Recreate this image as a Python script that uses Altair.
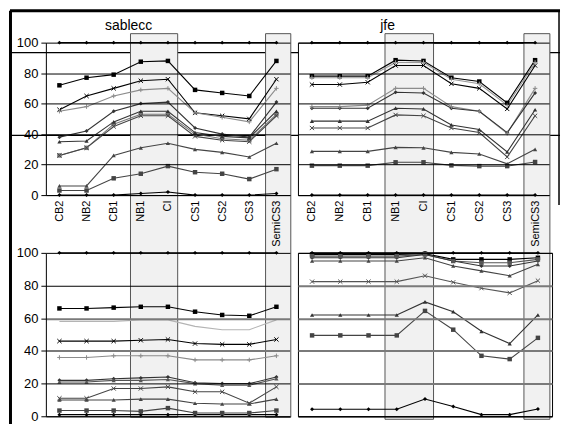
import json
import altair as alt
import pandas as pd

categories = ["CB2", "NB2", "CB1", "NB1", "CI", "CS1", "CS2", "CS3", "SemiCS3"]

# ---- sablecc (top left)
sab_1 = [100, 100, 100, 100, 100, 100, 100, 100, 100]
sab_2 = [72, 77, 79, 87.5, 88, 69, 67, 65, 88]
sab_3 = [56, 65, 70, 75, 76, 54, 52, 50, 76]
sab_4 = [55, 58, 65, 69, 70, 54, 51, 48, 70]
sab_5 = [38, 42, 55, 60, 61, 44, 40, 38, 61]
sab_6 = [35, 35.5, 48, 55, 55, 41, 38.5, 37.5, 55]
sab_7 = [26, 31, 46.5, 53, 53, 40, 37, 36, 53]
sab_8 = [26, 31, 45, 52, 52, 38.5, 36, 35, 52]
sab_9 = [6, 6, 26, 31, 34, 30, 28, 25, 34]
sab_10 = [3, 3, 11, 14, 19, 15, 14, 10.5, 17]
sab_11 = [0, 0, 0, 1, 2, 0, 0, 0, 1]

# ---- jfe (top right)
jfe_1 = [100, 100, 100, 100, 100, 100, 100, 100, 100]
jfe_2 = [78, 78, 78, 88.5, 88, 77, 74.5, 60.5, 88.5]
jfe_3 = [77, 77, 77, 87, 87, 76, 73, 59, 87]
jfe_4 = [72.5, 72.5, 74, 85, 85, 73, 70, 56.5, 85]
jfe_5 = [58, 58, 59, 70, 70, 58, 55, 40.5, 70]
jfe_6 = [57, 57, 57, 67.5, 67, 57, 55, 41, 67]
jfe_7 = [48.5, 48.5, 48.5, 57, 56.5, 46, 43, 28.3, 56]
jfe_8 = [44, 44, 44, 52.6, 52, 44, 41, 25, 52]
jfe_9 = [28.7, 28.7, 28.7, 31.3, 31, 28, 27, 20.5, 30]
jfe_10 = [19.3, 19.3, 19.3, 21.5, 21.5, 19.5, 19, 19, 21.7]
jfe_11 = [0, 0, 0, 0, 0, 0, 0, 0, 0]

# ---- bottom left
bl_1 = [100, 100, 100, 100, 100, 100, 100, 100, 100]
bl_2 = [66, 66, 66.5, 67, 67, 64, 62, 61.5, 67]
bl_3 = [58, 58, 58, 59, 59, 55, 53, 53, 59]
bl_4 = [46, 46, 46, 46.5, 47, 44.5, 44, 44, 47]
bl_5 = [36, 36, 37, 37, 37, 34.5, 34.5, 34.5, 37]
bl_6 = [22, 22, 23, 23.5, 24, 20.5, 20, 20, 24]
bl_7 = [21, 21, 22, 22, 22.5, 20, 19, 19, 23]
bl_8 = [11, 11, 17, 17, 18, 15, 15, 8, 18]
bl_9 = [10, 10, 10, 10.5, 10.5, 8, 7.5, 7.5, 10.5]
bl_10 = [3.5, 3.5, 3.5, 3, 5, 2, 2, 2, 3.5]
bl_11 = [1, 1, 1, 1, 1, 1, 1, 1, 1]

# ---- bottom right
br_1 = [100, 100, 100, 100, 100, 100, 100, 100, 100]
br_2 = [99, 99, 99, 99, 99.5, 96, 96, 96, 97]
br_3 = [98, 98, 98, 98, 99, 95, 94, 94, 96]
br_4 = [97, 97, 97, 97, 99, 95, 92, 92, 95]
br_5 = [95, 95, 95, 95, 97, 92, 89, 86, 93]
br_6 = [82.4, 82.4, 82.4, 82.4, 86, 82, 78.4, 75.5, 83]
br_7 = [62, 62, 62, 62, 70, 64, 52, 44.5, 62]
br_8 = [49.5, 49.5, 49.5, 49.5, 64.5, 53, 37, 35, 48]
br_9 = [4.3, 4.3, 4.3, 4.3, 10.6, 6, 1, 1, 4.5]

highlight_groups = [("NB1", "CI"), ("SemiCS3", "SemiCS3")]

# styles (colour, marker) per series
sab_styles = [("#000000", "diamond"), ("#000000", "square"), ("#000000", "x"), ("#8c8c8c", "plus"),
              ("#333333", "diamond"), ("#333333", "triangle-up"), ("#777777", "square"), ("#444444", "x"),
              ("#444444", "triangle-up"), ("#444444", "square"), ("#000000", "diamond")]
jfe_styles = [("#000000", "diamond"), ("#000000", "square"), ("#9a9a9a", "plus"), ("#000000", "x"),
              ("#8c8c8c", "plus"), ("#333333", "diamond"), ("#333333", "triangle-up"), ("#444444", "x"),
              ("#444444", "triangle-up"), ("#444444", "square"), ("#000000", "diamond")]
bl_styles = [("#000000", "diamond"), ("#000000", "square"), ("#b4b4b4", "none"), ("#000000", "x"),
             ("#8c8c8c", "plus"), ("#333333", "diamond"), ("#555555", "triangle-up"), ("#444444", "x"),
             ("#444444", "triangle-up"), ("#444444", "square"), ("#000000", "diamond")]
br_styles = [("#000000", "diamond"), ("#000000", "square"), ("#555555", "square"), ("#333333", "diamond"),
             ("#444444", "triangle-up"), ("#555555", "x"), ("#333333", "triangle-up"), ("#444444", "square"),
             ("#000000", "diamond")]

FONT = "Liberation Sans"
X_PATH = "M-1,-1L1,1M-1,1L1,-1"
PLUS_PATH = "M-1,0L1,0M0,-1L0,1"
label_expr = json.dumps(categories) + "[datum.value]"
n = len(categories)


def panel(name, series, styles, width, height, ylabels, xlabels, gridcond, boxed, title=None,
          title_x=0, shade_bottom=None, frame=False, right_frame=False, fill=None):
    rows = []
    ids = []
    cols = []
    for k, (vals, st) in enumerate(zip(series, styles)):
        sid = f"{name}{k:02d}"
        ids.append(sid)
        cols.append(st[0])
        for i, v in enumerate(vals):
            rows.append({"idx": i, "val": v, "sid": sid, "marker": st[1]})
    df = pd.DataFrame(rows)

    xscale = alt.Scale(domain=[-0.5, n - 0.5], nice=False, zero=False)
    yscale = alt.Scale(domain=[0, 100], nice=False)
    if xlabels:
        xaxis = alt.Axis(values=list(range(n)), labelExpr=label_expr, labelAngle=-90, labelAlign="right",
                         labelBaseline="middle", labelFontSize=11, labelFont=FONT, labelColor="black",
                         ticks=False, grid=False, domainColor="black", title=None, labelPadding=5, zindex=1)
    else:
        xaxis = alt.Axis(labels=False, ticks=False, grid=False, domainColor="black", title=None, zindex=1)
    gcol = {"condition": {"test": gridcond, "value": "#7a7a7a"}, "value": "black"}
    gwid = {"condition": {"test": gridcond, "value": 2}, "value": 1}
    if ylabels:
        yaxis = alt.Axis(values=[0, 20, 40, 60, 80, 100], labelFontSize=13, labelFont=FONT, labelColor="black",
                         tickColor="black", tickSize=5, domainColor="black", gridColor=gcol, gridWidth=gwid,
                         title=None, labelPadding=3, zindex=1)
    else:
        yaxis = alt.Axis(values=[0, 20, 40, 60, 80, 100], labels=False, ticks=False, domain=False,
                         gridColor=gcol, gridWidth=gwid, title=None, zindex=1)

    layers = []
    one = pd.DataFrame({"a": [0]})
    if frame:
        # overlay frame lines
        for yy in [10, 93]:
            layers.append(alt.Chart(one).mark_rule(color="black", strokeWidth=1.2).encode(
                x=alt.value(-36), x2=alt.value(516), y=alt.value(yy)))
        layers.append(alt.Chart(one).mark_rule(color="black", strokeWidth=3).encode(
            x=alt.value(-35.5), y=alt.value(-32), y2=alt.value(height + 230)))
        layers.append(alt.Chart(one).mark_rule(color="black", strokeWidth=3).encode(
            x=alt.value(-36), x2=alt.value(516), y=alt.value(-32)))
    if right_frame:
        layers.append(alt.Chart(one).mark_rule(color="black", strokeWidth=1.5).encode(
            x=alt.value(width + 10), y=alt.value(-32), y2=alt.value(height + 10)))

    if shade_bottom is not None:
        sh = []
        for a, b in highlight_groups:
            ia, ib = categories.index(a), categories.index(b)
            if ia == ib:
                sh.append({"x0": ia - 0.4, "x1": ib + 0.53})
            else:
                sh.append({"x0": ia - 0.38, "x1": ib + 0.36})
        layers.append(alt.Chart(pd.DataFrame(sh)).mark_rect(fill="#f1f1f1", stroke="#555555", strokeWidth=1).encode(
            x=alt.X("x0:Q", scale=xscale, axis=xaxis), x2="x1:Q",
            y=alt.value(-9), y2=alt.value(shade_bottom)))

    base = alt.Chart(df)
    enc = dict(x=alt.X("idx:Q", scale=xscale, axis=xaxis),
               y=alt.Y("val:Q", scale=yscale, axis=yaxis),
               color=alt.Color("sid:N", scale=alt.Scale(domain=ids, range=cols), legend=None))
    layers.append(base.mark_line(strokeWidth=1.1).encode(**enc))
    for shp, size in [("diamond", 16), ("square", 20), ("triangle-up", 18)]:
        layers.append(base.transform_filter(alt.datum.marker == shp)
                      .mark_point(shape=shp, filled=True, size=size, opacity=1).encode(**enc))
    for mk, path, size in [("x", X_PATH, 18), ("plus", PLUS_PATH, 20)]:
        layers.append(base.transform_filter(alt.datum.marker == mk)
                      .mark_point(shape=path, filled=False, size=size, strokeWidth=1, opacity=1).encode(**enc))
    if title:
        layers.append(alt.Chart(pd.DataFrame({"t": [title]})).mark_text(
            fontSize=14, font=FONT, align="center", baseline="alphabetic", color="black").encode(
            text="t:N", x=alt.value(title_x), y=alt.value(-13)))

    view = {"stroke": "black", "strokeWidth": 1} if boxed else {"strokeWidth": 0}
    if fill:
        view["fill"] = fill
    return alt.layer(*layers).properties(width=width, height=height, view=view)


tl = panel("tl", [sab_1, sab_2, sab_3, sab_4, sab_5, sab_6, sab_7, sab_8, sab_9, sab_10, sab_11], sab_styles,
           245, 153, True, True, "false", False, title="sablecc", title_x=83, shade_bottom=376, frame=True)
tr = panel("tr", [jfe_1, jfe_2, jfe_3, jfe_4, jfe_5, jfe_6, jfe_7, jfe_8, jfe_9, jfe_10, jfe_11], jfe_styles,
           252, 153, False, True, "false", True, title="jfe", title_x=90, shade_bottom=378,
           right_frame=True, fill="white")
bl = panel("bl", [bl_1, bl_2, bl_3, bl_4, bl_5, bl_6, bl_7, bl_8, bl_9, bl_10, bl_11], bl_styles,
           245, 164, True, False, "datum.value == 60 || datum.value == 40", False)
br = panel("br", [br_1, br_2, br_3, br_4, br_5, br_6, br_7, br_8, br_9], br_styles,
           255, 164, False, False, "datum.value > 0 && datum.value < 100", True)

chart = alt.concat(tl, tr, bl, br, columns=2, spacing={"row": 58, "column": 8}, bounds="flush").resolve_scale(
    color="independent", x="independent", y="independent"
).properties(padding=0, background="white").configure_view(strokeWidth=0)

chart.save("out.html", embed_options={"renderer": "svg", "actions": False})
